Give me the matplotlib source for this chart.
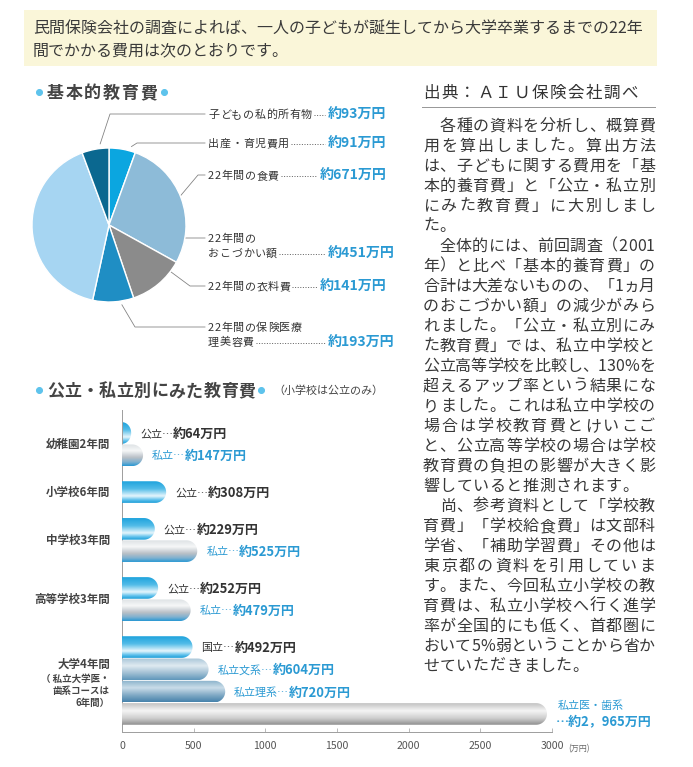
import numpy as np
import matplotlib.pyplot as plt
from matplotlib import font_manager
from matplotlib.colors import to_rgb
from matplotlib.patches import PathPatch, Rectangle
from matplotlib.path import Path

try:
    from matplotlib.ft2font import LoadFlags
    NO_HINT = LoadFlags.NO_HINTING
except ImportError:
    from matplotlib.ft2font import LOAD_NO_HINTING as NO_HINT

W, H, DPI = 693, 767, 72
JP = 'Noto Sans CJK JP'
plt.rcParams['font.family'] = [JP, 'DejaVu Sans']

DARK = '#333333'
BLUE = '#2b9ad3'
DOT = '#5ec3ec'

# ---- data ----
intro = ['民間保険会社の調査によれば、一人の子どもが誕生してから大学卒業するまでの22年',
         '間でかかる費用は次のとおりです。']

pie_title = '基本的教育費'
# items clockwise from 12 o'clock, each with its leader line
pie_items = ['出産・育児費用', '22年間の食費', '22年間の衣料費', '22年間の保険医療\n理美容費',
             '22年間の\nおこづかい額', '子どもの私的所有物']
pie_costs = [91, 671, 141, 193, 451, 93]  # 万円, as printed next to the labels
# wedge sizes as drawn in the source (it swaps 食費/おこづかい and 衣料/保険 wedges)
pie_wedges = [91, 451, 193, 141, 671, 93]
pie_colors = ['#0ba6e0', '#8dbbd8', '#8b8b8b', '#1f8ec4', '#a6d5f2', '#0b6890']

bar_title = '公立・私立別にみた教育費'
bar_subtitle = '（小学校は公立のみ）'
schools = ['幼稚園2年間', '小学校6年間', '中学校3年間', '高等学校3年間', '大学4年間']
school_note = ['（ 私立大学医・', '歯系コースは', '6年間）']
bar_kinds = [['公立', '私立'], ['公立'], ['公立', '私立'], ['公立', '私立'],
             ['国立', '私立文系', '私立理系', '私立医・歯系']]
bar_costs = [[64, 147], [308], [229, 525], [252, 479], [492, 604, 720, 2965]]
x_ticks = [0, 500, 1000, 1500, 2000, 2500, 3000]
x_unit = '(万円)'

source = '出典：ＡＩＵ保険会社調べ'
body = [
    '　各種の資料を分析し、概算費',
    '用を算出しました。算出方法',
    'は、子どもに関する費用を「基',
    '本的養育費」と「公立・私立別',
    'にみた教育費」に大別しまし',
    'た。',
    '　全体的には、前回調査（2001',
    '年）と比べ「基本的養育費」の',
    '合計は大差ないものの、「1ヵ月',
    'のおこづかい額」の減少がみら',
    'れました。「公立・私立別にみ',
    'た教育費」では、私立中学校と',
    '公立高等学校を比較し、130%を',
    '超えるアップ率という結果にな',
    'りました。これは私立中学校の',
    '場合は学校教育費とけいこご',
    'と、公立高等学校の場合は学校',
    '教育費の負担の影響が大きく影',
    '響していると推測されます。',
    '　尚、参考資料として「学校教',
    '育費」「学校給食費」は文部科',
    '学省、「補助学習費」その他は',
    '東京都の資料を引用していま',
    'す。また、今回私立小学校の教',
    '育費は、私立小学校へ行く進学',
    '率が全国的にも低く、首都圏に',
    'おいて5%弱ということから省か',
    'せていただきました。',
]
para_end = {5, 18, 27}

GRADS = {
    'pub': [(0, '#1ea3dd'), (0.35, '#52bce8'), (0.68, '#e6f6fc'), (0.86, '#5fc1ec'), (1, '#1b9dd8')],
    'pri': [(0, '#dde2e5'), (0.3, '#f6f7f8'), (0.62, '#b8bfc6'), (0.82, '#80b1d0'), (1, '#2a98d3')],
    'bun': [(0, '#a9c6d8'), (0.35, '#dfeaf1'), (0.7, '#9dbdd2'), (1, '#5f97bb')],
    'ri': [(0, '#88b1ca'), (0.35, '#cadde9'), (0.7, '#7ea8c4'), (1, '#4682ab')],
    'med': [(0, '#c2c2c2'), (0.35, '#f5f5f5'), (0.7, '#cdcdcd'), (1, '#8e8e8e')],
}


def style_of(kind):
    if kind in ('公立', '国立'):
        return 'pub'
    return {'私立': 'pri', '私立文系': 'bun', '私立理系': 'ri'}.get(kind, 'med')


# ---- font metrics for hand spaced text ----
fonts = {}
for wt in ('normal', 'bold'):
    try:
        p = font_manager.findfont(font_manager.FontProperties(family=JP, weight=wt))
        fonts[wt] = font_manager.get_font(p, hinting_factor=1)
    except Exception:
        fonts[wt] = None


def advances(s, size, weight='normal'):
    f = fonts.get(weight)
    out = []
    for c in s:
        try:
            f.set_size(size, DPI)
            out.append(f.load_char(ord(c), flags=NO_HINT).linearHoriAdvance / 65536)
        except Exception:
            out.append(size * (0.55 if ord(c) < 128 else 1.0))
    return out


fig = plt.figure(figsize=(W / DPI, H / DPI), dpi=DPI)
bg = fig.add_axes([0, 0, 1, 1])
bg.set_xlim(0, W)
bg.set_ylim(H, 0)
bg.axis('off')


def fig_rect(left, top, width, height):
    return [left / W, 1 - (top + height) / H, width / W, height / H]


def put(x, yc, s, size, color=DARK, weight='normal', track=0.0, width=None, ha='left'):
    adv = advances(s, size, weight)
    if width is not None and len(s) > 1:
        track = (width - sum(adv)) / (len(s) - 1)
    total = sum(adv) + track * (len(s) - 1)
    if ha == 'right':
        x -= total
    base = yc + 0.37 * size
    if track == 0:
        bg.text(x, base, s, fontsize=size, color=color, fontweight=weight, va='baseline')
        return x + total
    pen = x
    for c, a in zip(s, adv):
        if not c.isspace():
            bg.text(pen, base, c, fontsize=size, color=color, fontweight=weight, va='baseline')
        pen += a + track
    return x + total


# ---- banner ----
bg.add_patch(Rectangle((24, 10), 633, 56, facecolor='#faf6d9', edgecolor='none'))
put(33, 27, intro[0], 16, '#3a3a3a')
put(33, 49, intro[1], 16, '#3a3a3a')

# ---- pie ----
put(47, 92, pie_title, 17, '#444444', 'bold', width=110)
bg.plot([39, 164], [92, 92], 'o', ms=6, color=DOT, ls='none')

cx, cy, R = 109, 225, 77
pax = fig.add_axes(fig_rect(cx - R, cy - R, 2 * R, 2 * R))
wedges, _ = pax.pie(pie_wedges, colors=pie_colors, startangle=90, counterclock=False,
                    wedgeprops=dict(edgecolor='white', linewidth=1.4))
pax.set_xlim(-1, 1)
pax.set_ylim(-1, 1)
pax.axis('off')

# (elbow x, elbow y, anchor radius, anchor shift clockwise deg, value x)
PIE_LAYOUT = [(137, 143, 1.06, 6, 328), (198, 175, 0.95, 0, 320), (190, 286, 0.98, -13, 320),
              (135, 327, 1.05, -6, 328), (82, 238, 0.47, 0, 328), (110, 114, 1.06, 4, 328)]

for w, name, cost, (ex, ey, r, shift, vx) in zip(wedges, pie_items, pie_costs, PIE_LAYOUT):
    a = np.deg2rad((w.theta1 + w.theta2) / 2 - shift)
    px, py = cx + r * R * np.cos(a), cy - r * R * np.sin(a)
    bg.plot([px, ex, 205], [py, ey, ey], color='#808080', lw=0.8)
    for k, line in enumerate(name.split('\n')):
        yc = ey + 14.5 * k
        end = put(208, yc, line, 11, DARK, track=0.6)
    bg.plot([end + 2, vx - 3], [yc + 1, yc + 1], ls=(0, (1, 1.6)), color='#666666', lw=1)
    put(vx, yc, f'約{cost}万円', 14, BLUE, 'bold')

# ---- bars ----
put(47, 390, bar_title, 17, '#444444', 'bold', width=208)
bg.plot([39, 261], [390, 390], 'o', ms=6, color=DOT, ls='none')
put(273, 390, bar_subtitle, 11, '#444444')

bax = fig.add_axes(fig_rect(122, 410, 430, 322))
bax.set_facecolor('none')
GAP, BAR_H = 0.65, 0.97
ys, pos = [], 0.0
for gi, vals in enumerate(bar_costs):
    if gi:
        pos += GAP
    ys.append([pos + k for k in range(len(vals))])
    pos += len(vals)
y_top, y_bot = ys[0][0] - 1.03, ys[-1][-1] + 0.81
slot_px = 322 / (y_bot - y_top)
rx_full = BAR_H / 2 * slot_px * 3000 / 430
t = np.linspace(-np.pi / 2, np.pi / 2, 40)


def gradient(stops, n=80):
    p = [s[0] for s in stops]
    cols = np.array([to_rgb(s[1]) for s in stops])
    u = np.linspace(0, 1, n)
    return np.stack([np.interp(u, p, cols[:, c]) for c in range(3)], axis=1)[:, None, :]


z = 2
for kinds, vals, yy in zip(bar_kinds, bar_costs, ys):
    for kind, v, y in zip(kinds, vals, yy):
        rx = min(rx_full, v)
        hh = BAR_H / 2
        xs = np.concatenate([[0, v - rx], v - rx + rx * np.cos(t), [v - rx, 0]])
        yv = np.concatenate([[y + hh, y + hh], y - hh * np.sin(t), [y - hh, y - hh]])
        clip = PathPatch(Path(np.column_stack([xs, yv])), facecolor='none', edgecolor='none',
                         transform=bax.transData)
        bax.add_patch(clip)
        im = bax.imshow(gradient(GRADS[style_of(kind)]), extent=[0, v, y + hh, y - hh],
                        aspect='auto', interpolation='bilinear', zorder=z)
        im.set_clip_path(clip)
        z += 1

bax.set_xlim(0, 3000)
bax.set_ylim(y_bot, y_top)
bax.set_yticks([])
bax.set_xticks(x_ticks)
bax.set_xticklabels([str(v) for v in x_ticks], fontsize=10.5, color='#555555')
bax.tick_params(axis='x', direction='in', length=4, color='#aaaaaa', pad=9)
for s in ('top', 'right'):
    bax.spines[s].set_visible(False)
for s in ('left', 'bottom'):
    bax.spines[s].set_color('#a0a0a0')
    bax.spines[s].set_linewidth(1.0)
put(568, 748, x_unit, 8, '#666666')


def to_px(x, y):
    return bg.transData.inverted().transform(bax.transData.transform((x, y)))


for gi, (school, kinds, vals, yy) in enumerate(zip(schools, bar_kinds, bar_costs, ys)):
    gx, gy = to_px(0, np.mean(yy))
    if gi < len(schools) - 1:
        put(110, gy, school, 11.5, '#444444', 'bold', ha='right')
    else:
        put(110, gy - 16.5, school, 11.5, '#444444', 'bold', ha='right')
        for k, note in enumerate(school_note):
            put(110, gy - 2.5 + 12 * k, note, 9.5, '#444444', 'bold', ha='right')
    for kind, v, y in zip(kinds, vals, yy):
        bx, by = to_px(v, y)
        col = BLUE if kind.startswith('私立') else DARK
        val = f'約{v:,}万円'.replace(',', '，')
        if v > 2000:
            put(bx + 11, by - 9, kind, 11, col)
            put(bx + 9, by + 7, '…' + val, 13, col, 'bold')
        else:
            end = put(bx + 9, by, kind + '…', 11, col)
            put(end, by, val, 13, col, 'bold')

# ---- right column ----
put(423, 92, source, 16.5, DARK, width=215)
bg.plot([422, 655], [107, 107], color='#999999', lw=1)
for i, line in enumerate(body):
    put(423, 125 + 20 * i, line, 16, '#383838',
        width=None if i in para_end else 232, track=0.6)

fig.savefig('out.png', dpi=DPI)
